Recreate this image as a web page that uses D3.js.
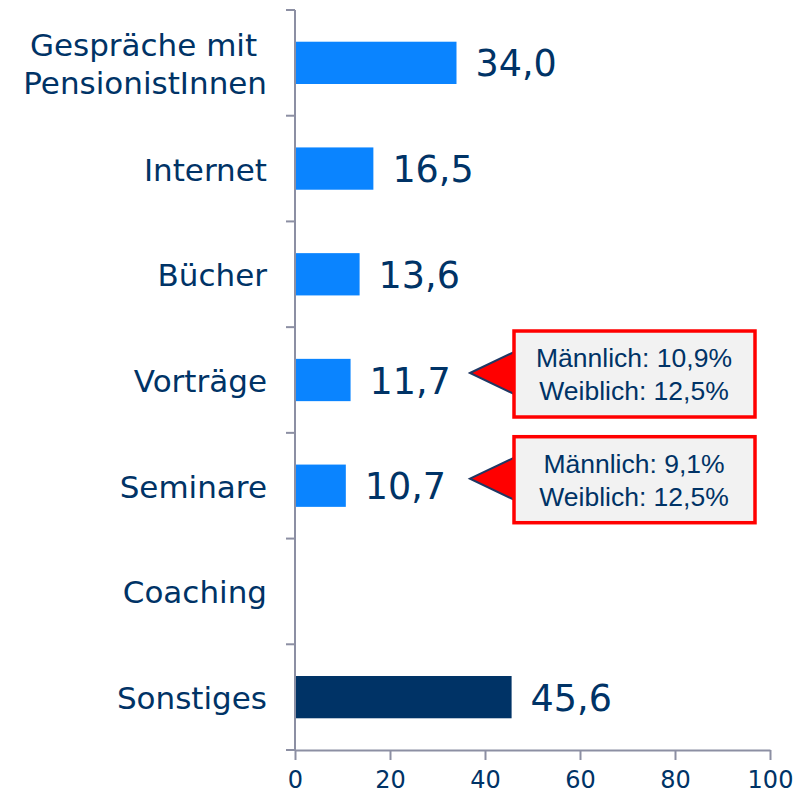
<!DOCTYPE html>
<html><head><meta charset="utf-8">
<script src="https://cdn.jsdelivr.net/npm/d3@7"></script>
<style>body{margin:0;background:#fff} text{white-space:pre}</style>
</head><body>
<svg id="c" width="812" height="798"></svg>
<script>
const categories = [["Gespräche mit ", "PensionistInnen"], ["Internet"], ["Bücher"], ["Vorträge"], ["Seminare"], ["Coaching"], ["Sonstiges"]];
const values = [34.0, 16.5, 13.6, 11.7, 10.7, null, 45.6];
const valueLabels = ["34,0", "16,5", "13,6", "11,7", "10,7", "", "45,6"];
const xTicks = [0, 20, 40, 60, 80, 100];
const callouts = [
  {index: 3, lines: ["Männlich: 10,9%", "Weiblich: 12,5%"]},
  {index: 4, lines: ["Männlich: 9,1%", "Weiblich: 12,5%"]}
];

const navy = "#003366", blue = "#0A84FF", axisCol = "#8C8FA3";
const svg = d3.select("#c");
const x = d3.scaleLinear().domain([0, 100]).range([295, 770]);
const y = d3.scaleBand().domain(d3.range(categories.length)).range([10, 750]).paddingInner(0.6).paddingOuter(0.3);
const step = y.step();
const y0 = 10;

// bars
svg.selectAll("rect.bar").data(values.map((v,i)=>({v,i})).filter(d=>d.v!=null))
  .enter().append("rect")
  .attr("x", x(0)).attr("y", d=>y(d.i)).attr("height", y.bandwidth())
  .attr("width", d=>x(d.v)-x(0))
  .attr("fill", d=>d.i===categories.length-1 ? navy : blue);

// value labels
svg.selectAll("text.val").data(values.map((v,i)=>({v,i})).filter(d=>d.v!=null))
  .enter().append("text")
  .attr("x", d=>x(d.v)+19).attr("y", d=>y(d.i)+y.bandwidth()/2+13.5)
  .attr("font-family","DejaVu Sans").attr("font-size",36.5).attr("fill",navy)
  .text(d=>valueLabels[d.i]);

// y axis line & ticks
const ya = svg.append("g").attr("stroke", axisCol).attr("stroke-width", 2);
ya.append("line").attr("x1", x(0)).attr("x2", x(0)).attr("y1", y0).attr("y2", 750);
d3.range(categories.length+1).forEach(k=>{
  const yy = y0 + k*step;
  ya.append("line").attr("x1", x(0)-9).attr("x2", x(0)).attr("y1", yy).attr("y2", yy);
});
// x axis
const xa = svg.append("g").attr("transform","translate(0,750)").call(d3.axisBottom(x).tickValues(xTicks).tickSize(10).tickSizeOuter(0));
xa.select(".domain").attr("stroke", axisCol).attr("stroke-width",2);
xa.selectAll(".tick line").attr("stroke", axisCol).attr("stroke-width",2);
xa.selectAll(".tick text").attr("font-family","DejaVu Sans").attr("font-size",24).attr("fill",navy).attr("dy","1.05em");

// category labels
categories.forEach((lines,i)=>{
  const cy = y0 + (i+0.5)*step;
  const t = svg.append("text").attr("text-anchor","end").attr("font-family","DejaVu Sans").attr("font-size",31).attr("fill",navy);
  const lh = 38;
  lines.forEach((l,j)=>{
    t.append("tspan").attr("x", 267).attr("y", cy + 12 + (j-(lines.length-1)/2)*lh).text(l);
  });
});

// callouts
callouts.forEach(c=>{
  const cy = y(c.index)+y.bandwidth()/2;
  const g = svg.append("g");
  g.append("path").attr("d", `M${x(0)+175},${cy-7} L${x(0)+219},${cy-28} L${x(0)+219},${cy+14} Z`)
    .attr("fill","#FF0000").attr("stroke","#1F3864").attr("stroke-width",2);
  g.append("rect").attr("x", 514).attr("y", cy-49).attr("width", 241).attr("height", 86)
    .attr("fill","#F2F2F2").attr("stroke","#FF0000").attr("stroke-width",3.5);
  c.lines.forEach((l,j)=>{
    g.append("text").attr("x", 634).attr("y", cy-13 + j*33).attr("text-anchor","middle")
      .attr("font-family","Liberation Sans").attr("font-size",26.5).attr("fill",navy).text(l);
  });
});
</script>
</body></html>
